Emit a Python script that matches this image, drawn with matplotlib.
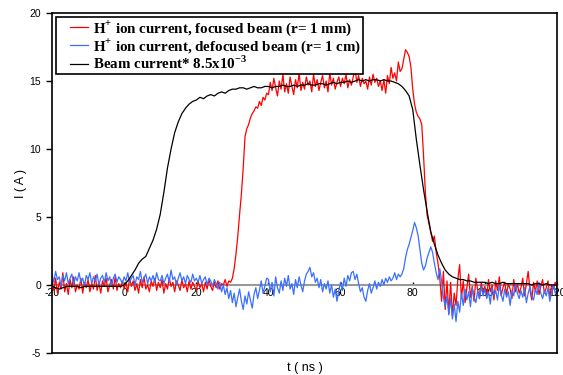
import numpy as np
import matplotlib
matplotlib.use("Agg")
import matplotlib.pyplot as plt
from matplotlib.lines import Line2D
from matplotlib.legend_handler import HandlerLine2D

plt.rcParams['font.family'] = 'Liberation Sans'
plt.rcParams['axes.unicode_minus'] = False
plt.rcParams['mathtext.fontset'] = 'custom'
plt.rcParams['mathtext.rm'] = 'Liberation Serif:bold'
plt.rcParams['mathtext.bf'] = 'Liberation Serif:bold'

# ion current traces sampled every 0.5 ns
t_ion = np.linspace(-20, 120, 281)

focused = [
    0.3, -0.4, 0.5, -0.6, 0.2, -0.3, 0.9, -0.5, 0.1, -0.7, 0.4, -0.2, 0.6, -0.5, 0.0, -0.3, 0.5, -0.6, 0.2, -0.2,
    0.4, -0.5, 0.1, -0.3, 0.7, -0.4, 0.2, -0.6, 0.3, -0.1, 0.5, -0.5, 0.0, 0.4, -0.3, 0.6, -0.4, 0.1, -0.2, 0.3,
    -0.3, 0.2, -0.5, 0.5, -0.1, 0.3, -0.4, 0.1, -0.6, 0.4, -0.2, 0.6, -0.3, 0.0, -0.5, 0.3, -0.1, 0.5, -0.4, 0.2,
    -0.2, 0.4, -0.6, 0.1, -0.3, 0.5, -0.1, 0.2, -0.5, 0.3, 0.0, -0.4, 0.4, -0.2, 0.1, -0.5, 0.3, -0.3, 0.2, -0.1,
    -0.4, 0.3, -0.2, 0.1, -0.5, 0.2, -0.3, 0.4, -0.1, -0.4, 0.2, -0.2, 0.3, -0.3, 0.1, 0.0, 0.4, -0.1, 0.3, 0.2,
    0.5, 1.2, 2.3, 3.6, 5.2, 6.7, 8.6, 10.9, 11.5, 11.8, 12.3, 12.6, 12.8, 13.1, 13.0, 13.5, 13.2, 13.8, 13.6, 14.1,
    14.0, 14.9, 14.3, 15.2, 14.5, 13.9, 15.0, 14.4, 15.5, 14.2, 14.8, 14.1, 15.3, 14.6, 14.0, 15.1, 14.5, 15.6, 14.3, 14.9,
    14.4, 15.3, 14.7, 15.0, 14.2, 15.5, 14.6, 15.1, 14.3, 14.9, 15.4, 14.5, 15.0, 14.2, 15.6, 14.7, 15.2, 14.4, 14.9, 15.3,
    14.6, 15.2, 14.8, 15.5, 14.5, 15.1, 14.7, 15.3, 15.9, 14.9, 15.4, 14.6, 15.2, 14.8, 15.0, 14.4, 15.3, 14.7, 15.5, 14.9,
    15.2, 14.6, 15.0, 14.3, 15.1, 14.1, 15.4, 14.8, 16.0, 15.2, 15.6, 15.0, 16.4, 15.7, 15.9, 16.6, 17.3, 17.1, 16.8, 16.0,
    14.4, 13.3, 12.7, 12.4, 12.2, 11.8, 9.5, 6.8, 5.1, 4.5, 3.9, 3.2, 3.6, 2.4, 1.6, 0.5, -1.2, 1.0, -1.8, 0.3,
    -2.1, 0.2, -2.3, -0.6, -1.5, 0.4, 1.5, -1.0, 0.3, -1.3, -0.2, 0.8, -0.9, -0.1, -1.2, 0.5, -0.4, -1.0, 0.2, -0.6,
    -0.1, -0.9, 0.4, -0.5, 0.0, -1.1, 0.3, -0.4, 0.6, -0.8, -0.2, 0.2, -0.7, 0.1, -0.3, -1.0, 0.4, -0.5, 0.1, -0.6,
    -0.2, 0.5, -0.8, 0.1, 1.0, -0.4, -1.1, 0.2, -0.5, 0.3, -0.7, -0.1, 0.4, -0.6, -0.2, 0.3, -0.9, 0.0, -0.3, 0.2,
    -0.2,
]

defocused = [
    0.8, 0.2, 1.0, 0.4, 0.6, -0.1, 0.7, 0.3, 0.9, 0.1, 0.5, 0.8, 0.0, 0.6, 0.3, 0.9, 0.2, 0.5, -0.1, 0.7,
    0.4, 0.9, 0.1, 0.6, 0.3, 0.8, 0.0, 0.5, 0.7, 0.2, 0.9, 0.3, 0.6, -0.1, 0.5, 0.8, 0.2, 0.6, 0.4, 0.1,
    0.6, 0.3, 0.9, 0.2, 0.5, 0.7, 0.0, 0.6, 0.4, 1.0, 0.2, 0.5, 0.8, 0.1, 0.6, 0.3, 0.7, 0.2, 0.9, 0.4,
    0.3, 0.7, 0.1, 0.5, 0.8, 0.2, 1.1, 0.4, 0.6, 0.0, 0.5, 0.9, 0.3, 0.6, 0.1, 0.7, 0.4, 0.2, 0.8, 0.3,
    0.5, 0.2, 0.7, 0.1, 0.4, 0.6, 0.0, 0.5, 0.3, -0.1, 0.4, 0.1, -0.3, 0.2, -0.5, 0.0, -0.7, -0.2, -1.0, -0.4,
    -1.3, -0.6, -1.6, -0.9, -0.3, -1.2, -1.8, -0.8, -1.4, -0.5, -1.1, -1.7, -0.7, -0.2, -1.0, -0.4, 0.3, -0.6, -0.1, 0.5,
    0.4, -0.5, 0.2, -0.8, 0.6, -0.2, -0.6, 0.3, -0.4, 0.5, -0.1, 0.7, -0.3, 0.1, -0.7, 0.4, -0.2, 0.6, 0.0, -0.5,
    0.3, 0.8, 1.0, 1.3, 0.6, 0.9, 0.2, 0.5, -0.2, 0.4, -0.5, 0.1, -0.3, 0.3, -0.6, 0.0, -0.9, -0.3, -1.2, -0.4,
    0.2, -0.4, 0.5, -0.1, 0.7, 0.3, 0.9, 1.0, 0.4, 0.8, 0.1, -0.5, -0.2, -0.9, -1.2, -0.4, 0.1, -0.6, -0.2, 0.3,
    -0.3, 0.2, -0.1, 0.4, 0.0, 0.5, 0.2, 0.6, 0.3, 0.5, 0.9, 0.4, 0.8, 0.6, 0.8, 1.2, 2.0, 2.6, 3.0, 3.5,
    4.0, 4.6, 4.2, 3.6, 2.6, 1.6, 1.1, 1.4, 2.0, 2.4, 2.8, 2.4, 1.6, 0.9, 0.4, 1.2, 0.3, -0.9, -1.6, -0.8,
    -2.2, -1.0, -2.5, -1.4, -2.7, -1.2, -2.0, -0.6, -1.5, -0.3, -1.1, -0.5, -1.6, -0.2, -0.9, -1.3, -0.4, -1.0, -0.1, -0.8,
    -0.3, -1.0, -0.5, -1.4, -0.2, -0.8, -0.4, -1.1, 0.0, -0.7, -1.2, -0.3, -0.9, -0.5, -1.5, -0.4, -0.8, 0.1, -0.6, -1.0,
    -0.4, -0.9, -0.2, -1.3, -0.6, -0.1, -0.8, -1.1, -0.3, -0.7, 0.2, -0.6, -1.0, -0.4, -0.8, -0.2, -1.2, -0.5, 0.0, -0.6,
    -0.4,
]

# scaled beam current, every 1 ns
t_beam = np.linspace(-20, 120, 141)
beam = [
    -0.1, -0.2, -0.3, -0.2, -0.1, -0.1, -0.1, -0.1, -0.2, -0.1,
    -0.1, -0.1, -0.1, -0.1, -0.1, -0.1, -0.1, -0.1, -0.1, -0.1,
    0.0, 0.3, 0.7, 1.1, 1.6, 1.9, 2.1, 2.7, 3.3, 4.1,
    5.2, 6.8, 8.6, 10.0, 11.2, 12.0, 12.6, 13.0, 13.3, 13.5,
    13.6, 13.8, 13.7, 13.9, 14.0, 13.9, 14.1, 14.2, 14.1, 14.3,
    14.4, 14.4, 14.5, 14.5, 14.4, 14.5, 14.6, 14.5, 14.5, 14.6,
    14.6, 14.5, 14.6, 14.6, 14.7, 14.6, 14.6, 14.7, 14.6, 14.7,
    14.7, 14.8, 14.7, 14.7, 14.8, 14.8, 14.7, 14.8, 14.9, 14.8,
    14.9, 14.9, 15.0, 14.9, 15.0, 15.1, 15.0, 15.1, 15.0, 15.1,
    15.1, 15.0, 15.1, 15.0, 15.0, 14.9, 14.8, 14.6, 14.3, 13.9,
    12.9, 10.7, 8.8, 7.0, 5.4, 3.9, 3.0, 2.2, 1.6, 1.1,
    0.8, 0.6, 0.5, 0.4, 0.4, 0.3, 0.3, 0.2, 0.2, 0.2,
    0.2, 0.1, 0.2, 0.1, 0.1, 0.2, 0.1, 0.1, 0.1, 0.1,
    0.1, 0.1, 0.1, 0.0, 0.1, 0.1, 0.0, 0.1, 0.0, 0.0,
    0.0,
]

labels = [
    r'H$^{+}$ ion current, focused beam (r= 1 mm)',
    r'H$^{+}$ ion current, defocused beam (r= 1 cm)',
    r'Beam current* 8.5x10$^{-3}$',
]
x_ticks = [-20, 0, 20, 40, 60, 80, 100, 120]
y_ticks = [-5, 0, 5, 10, 15, 20]

fig = plt.figure(figsize=(5.63, 3.75), dpi=100)
ax = fig.add_axes([0.0924, 0.0587, 0.897, 0.9066])

ax.plot(t_ion, focused, color='#ff0000', lw=0.9, label=labels[0])
ax.plot(t_ion, defocused, color='#3a6fff', lw=0.9, label=labels[1])
ax.plot(t_beam, beam, color='black', lw=0.9, label=labels[2])

ax.set_xlim(-20, 120)
ax.set_ylim(-5, 20)
ax.set_yticks(y_ticks)
ax.tick_params(axis='y', direction='out', length=4, width=1, labelsize=7.5, pad=4)
ax.tick_params(axis='x', bottom=False, labelbottom=False)
for s in ax.spines.values():
    s.set_linewidth(1.2)

# time axis drawn through zero
xax = ax.secondary_xaxis(0, transform=ax.transData)
xax.set_xticks(x_ticks)
xax.spines['bottom'].set_color('#999999')
xax.spines['bottom'].set_linewidth(1.5)
xax.tick_params(direction='in', length=2, width=1, labelsize=7.5, pad=2)

ax.set_xlabel('t ( ns )', fontsize=9, labelpad=6.5)
ax.set_ylabel('I ( A )', fontsize=9, labelpad=2)

# short legend keys set in from the frame edge
leg = ax.legend(loc='upper left', prop={'family': 'Liberation Serif', 'weight': 'bold', 'size': 10.8},
                frameon=True, fancybox=False, edgecolor='black', framealpha=1,
                handlelength=2.0, handletextpad=0.3, labelspacing=-0.08, borderpad=0.15,
                borderaxespad=0.25, handler_map={Line2D: HandlerLine2D(xpad=0.8)})
leg.get_frame().set_linewidth(1.2)

fig.savefig('out.png', dpi=100)
